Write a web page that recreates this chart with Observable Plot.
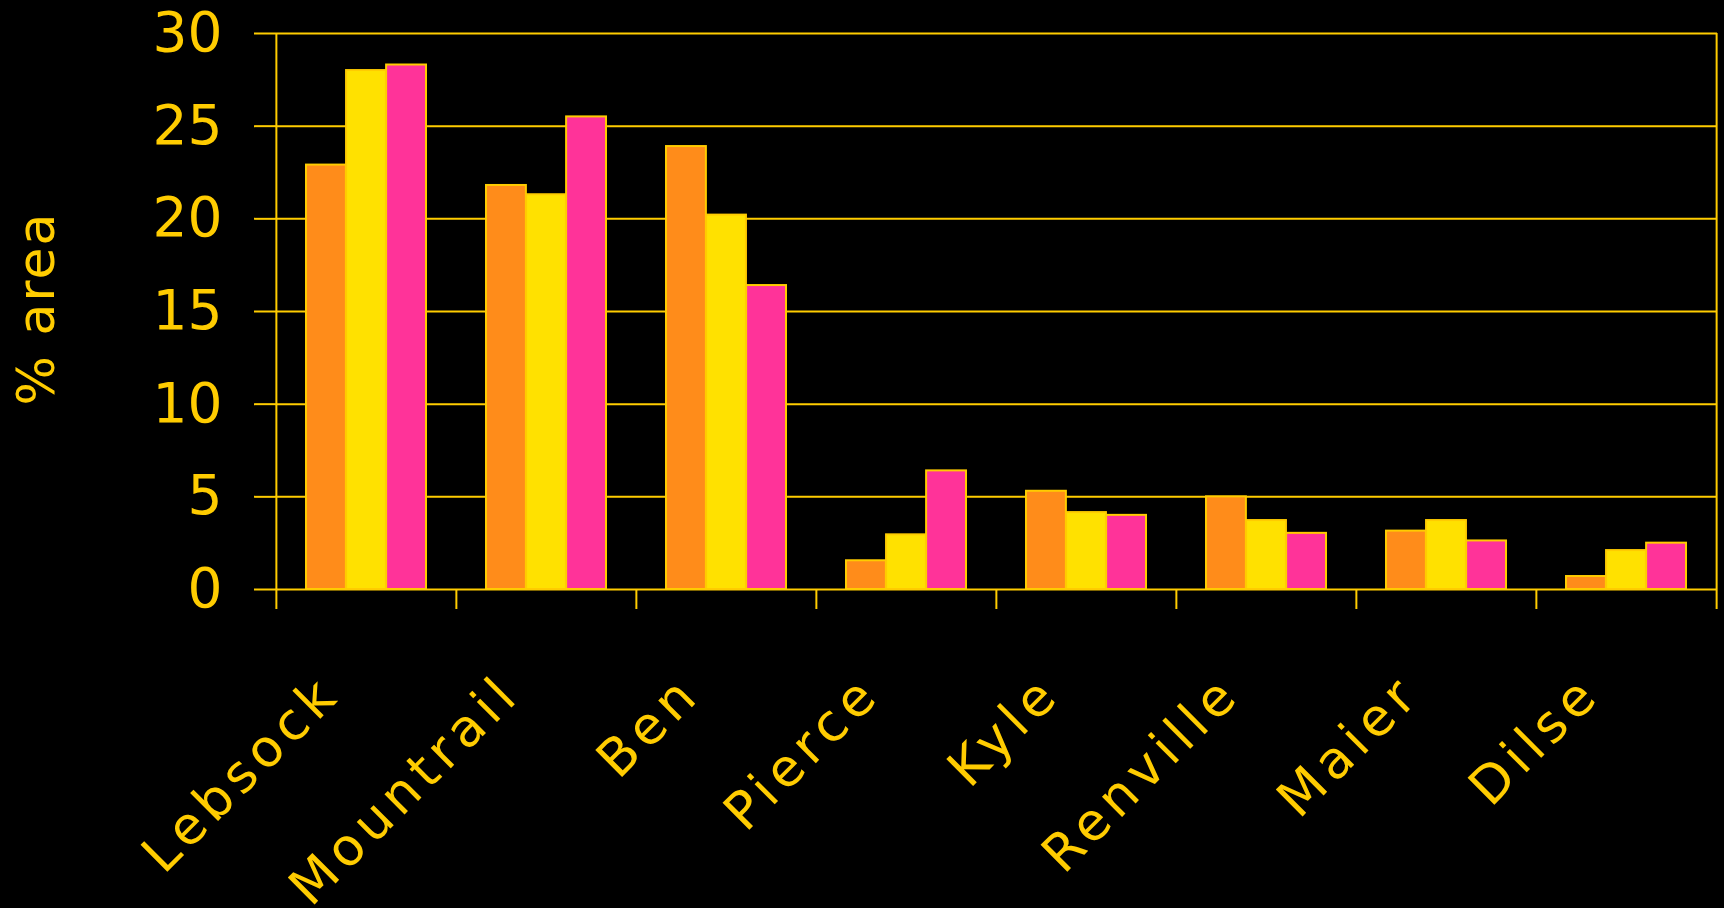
<!DOCTYPE html>
<html><head><meta charset="utf-8">
<script src="https://cdn.jsdelivr.net/npm/d3@7"></script>
<script src="https://cdn.jsdelivr.net/npm/@observablehq/plot@0.6"></script>
<style>
html,body{margin:0;padding:0;background:#000;overflow:hidden}
svg{display:block}
</style>
</head><body><div id="chart"></div>
<script>
// ---- data ----
const categories = ["Lebsock","Mountrail","Ben","Pierce","Kyle","Renville","Maier","Dilse"];
const seriesNames = ["Series 1","Series 2","Series 3"];
const series1 = [22.9, 21.8, 23.9, 1.55, 5.3, 5.0, 3.15, 0.7];
const series2 = [28.0, 21.3, 20.2, 2.95, 4.15, 3.72, 3.72, 2.1];
const series3 = [28.3, 25.5, 16.4, 6.4, 4.0, 3.03, 2.62, 2.5];
const yTicks = [0, 5, 10, 15, 20, 25, 30];
const yLabel = "% area";

// ---- styling ----
const gold = "#FFCC00";
const colors = ["#FF8C1A", "#FFE100", "#FF3399"];
const W = 1724, H = 908, ML = 275, MR = 7, MT = 33, MB = 319;
const step = (W - ML - MR) / categories.length;
const bandW = step * 2 / 3;
const barW = bandW / 3;
const frameH = H - MT - MB;

const table = categories.map((c, i) => ({category: c, s1: series1[i], s2: series2[i], s3: series3[i]}));
const keys = ["s1", "s2", "s3"];

const barMarks = keys.map((k, j) => Plot.barY(table, {
  x: "category", y: k, fill: colors[j], stroke: gold, strokeWidth: 2,
  insetLeft: j * barW, insetRight: (2 - j) * barW, title: d => `${d.category} – ${seriesNames[j]}: ${d[k]}`
}));

const chart = Plot.plot({
  width: W, height: H,
  marginLeft: ML, marginRight: MR, marginTop: MT, marginBottom: MB,
  style: {background: "#000", color: gold, fontFamily: "DejaVu Sans", fontSize: "55px", overflow: "visible"},
  x: {domain: categories, paddingInner: 1/3, paddingOuter: 1/6, axis: null},
  y: {domain: [0, 30], ticks: yTicks, tickSize: 21, tickPadding: 32, label: null},
  marks: [
    Plot.ruleY(yTicks, {y: d => d, stroke: gold, strokeWidth: 2}),
    Plot.ruleX([categories[0]], {x: d => d, dx: -step / 2, insetBottom: -20, stroke: gold, strokeWidth: 2}),
    Plot.ruleX(categories.slice(1), {x: d => d, dx: -step / 2, insetTop: frameH, insetBottom: -20, stroke: gold, strokeWidth: 2}),
    Plot.ruleX([categories[categories.length - 1]], {x: d => d, dx: step / 2, insetBottom: -20, stroke: gold, strokeWidth: 2}),
    ...barMarks,
    Plot.text(categories, {
      x: d => d, text: d => d, frameAnchor: "bottom", rotate: -45,
      textAnchor: "end", lineAnchor: "bottom", dx: -24, dy: 107,
      fontSize: 52, fill: gold, ariaDescription: "xlabels"
    }),
    Plot.text([yLabel], {
      text: d => d, frameAnchor: "left", rotate: -90, textAnchor: "middle",
      lineAnchor: "bottom", dx: -222, dy: -3, fontSize: 52, fill: gold, ariaDescription: "ylabel"
    })
  ]
});
d3.select(chart).selectAll('[aria-description="xlabels"] text').style("letter-spacing", "6px");
d3.select(chart).selectAll('[aria-description="ylabel"] text').style("letter-spacing", "2px");
d3.select(chart).selectAll('[aria-label="y-axis tick"] path, [aria-label="y-axis"] line').attr("stroke-width", 2);
document.getElementById("chart").appendChild(chart);
</script>
</body></html>
